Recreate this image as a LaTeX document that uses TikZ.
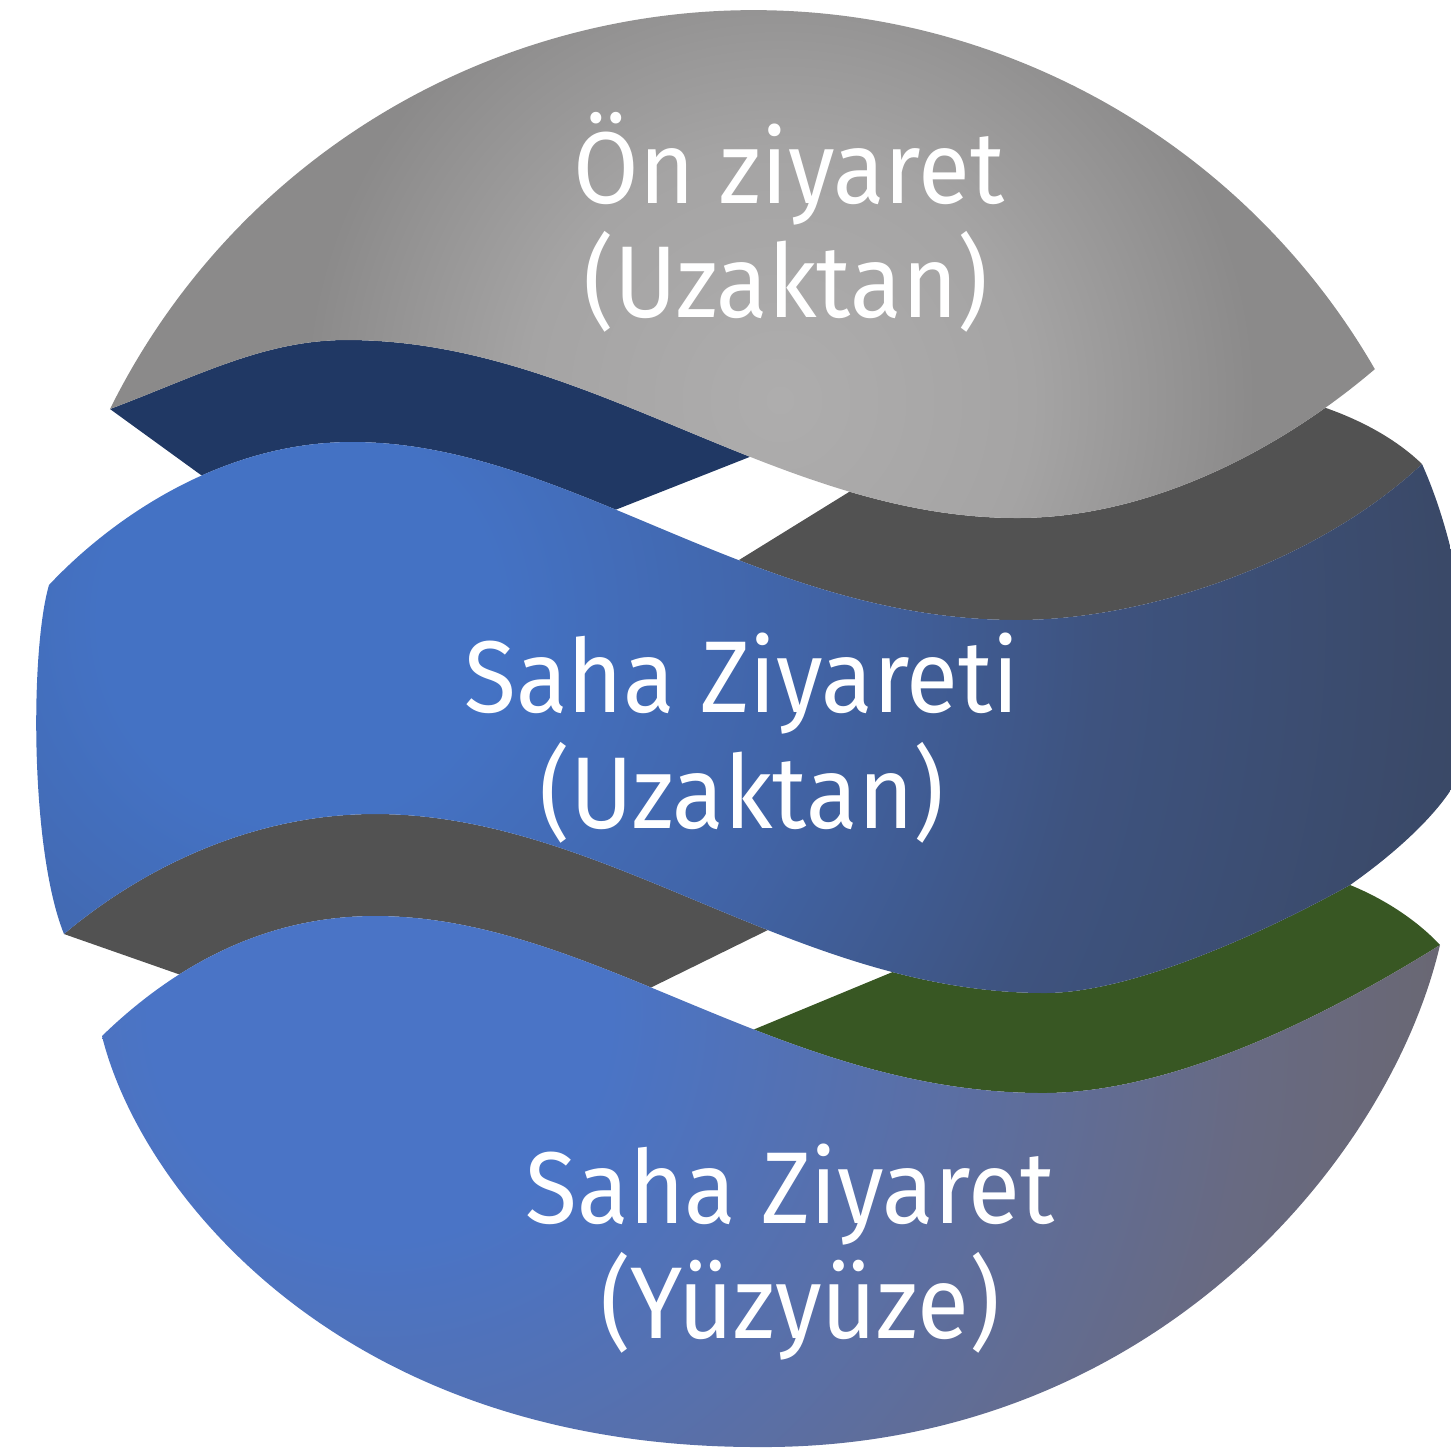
\documentclass[tikz,border=0pt]{standalone}
\usepackage{fontspec}
\setsansfont{Fira Sans}
\usepackage{xcolor}
\usepackage{tikz}
\usetikzlibrary{calc}

\definecolor{navyside}{HTML}{203864}
\definecolor{grayside}{HTML}{525252}
\definecolor{greenside}{HTML}{385723}
\definecolor{capin}{HTML}{AEADAD}
\definecolor{capmid}{HTML}{A5A4A4}
\definecolor{capout}{HTML}{8B8A8A}
\definecolor{midin}{HTML}{4472C4}
\definecolor{midmid}{HTML}{4164A7}
\definecolor{middark}{HTML}{3E537F}
\definecolor{midout}{HTML}{394661}
\definecolor{lowin}{HTML}{4A74C6}
\definecolor{lowmid}{HTML}{5A6FA6}
\definecolor{lowdark}{HTML}{686A82}
\definecolor{lowout}{HTML}{6A666C}

\pgfdeclareradialshading{capglow}{\pgfpointorigin}{color(0bp)=(capin); color(9bp)=(capmid); color(17bp)=(capout); color(25bp)=(capout); color(50bp)=(capout)}
\pgfdeclareradialshading{midglow}{\pgfpointorigin}{color(0bp)=(midin); color(4bp)=(midin); color(10bp)=(midmid); color(16bp)=(middark); color(25bp)=(midout); color(50bp)=(midout)}
\pgfdeclareradialshading{lowglow}{\pgfpointorigin}{color(0bp)=(lowin); color(5bp)=(lowin); color(12bp)=(lowmid); color(19bp)=(lowdark); color(25bp)=(lowout); color(50bp)=(lowout)}

% Vagues (bords des tranches)
\newcommand{\vagueA}{(L1) .. controls (200,375) and (265,340) .. (P1) .. controls (588,340) and (776,518) .. (T1) .. controls (1150,518) and (1280,450) .. (R1)}
\newcommand{\vagueArev}{(R1) .. controls (1280,450) and (1150,518) .. (T1) .. controls (776,518) and (588,340) .. (P1) .. controls (265,340) and (200,375) .. (L1)}
\newcommand{\vagueB}{(LB) .. controls (110,520) and (220,442) .. (PB) .. controls (568,442) and (754,620) .. (TB) .. controls (1150,620) and (1320,560) .. (RB)}
\newcommand{\vagueBrev}{(RB) .. controls (1320,560) and (1150,620) .. (TB) .. controls (754,620) and (568,442) .. (PB) .. controls (220,442) and (110,520) .. (LB)}
\newcommand{\vagueC}{(LC) .. controls (140,870) and (250,814) .. (PC) .. controls (606,814) and (795,993) .. (TC) .. controls (1130,993) and (1260,935) .. (RC)}
\newcommand{\vagueCrev}{(RC) .. controls (1260,935) and (1130,993) .. (TC) .. controls (795,993) and (606,814) .. (PC) .. controls (250,814) and (140,870) .. (LC)}
\newcommand{\vagueD}{(LD) .. controls (170,970) and (260,916) .. (PD) .. controls (593,916) and (780,1093) .. (TD) .. controls (1170,1093) and (1320,1020) .. (RD)}
\newcommand{\vagueDrev}{(RD) .. controls (1320,1020) and (1170,1093) .. (TD) .. controls (780,1093) and (593,916) .. (PD) .. controls (260,916) and (170,970) .. (LD)}

\begin{document}
\begin{tikzpicture}[x=0.01cm, y=-0.01cm,
    etiquette/.style={text=white, font=\sffamily\fontsize{29}{33}\selectfont, anchor=base, inner sep=0pt, xscale=0.93}]
    \useasboundingbox (0,0) rectangle (1451,1450);

    % Bord bas du chapeau
    \coordinate (L1) at (110,409);
    \coordinate (P1) at (347,340);
    \coordinate (T1) at (1017,518);
    \coordinate (R1) at (1375,369);
    % Bord haut de la bande du milieu
    \coordinate (LB) at (49,585);
    \coordinate (PB) at (352,442);
    \coordinate (TB) at (1017,620);
    \coordinate (RB) at (1422,464);
    % Bord bas de la bande du milieu
    \coordinate (LC) at (64,934);
    \coordinate (PC) at (375,814);
    \coordinate (TC) at (1045,993);
    \coordinate (RC) at (1350,885);
    % Bord haut de la bande du bas
    \coordinate (LD) at (102,1036);
    \coordinate (PD) at (375,916);
    \coordinate (TD) at (1043,1093);
    \coordinate (RD) at (1440,945);
    % Extremites des tranches
    \coordinate (E1) at (201,475);
    \coordinate (F1) at (1326,408);
    \coordinate (E2) at (181,975);
    \coordinate (A1) at (752,456);
    \coordinate (A2) at (615,510);
    \coordinate (B1) at (849,492);
    \coordinate (B2) at (739,560);
    \coordinate (C1) at (772,928);
    \coordinate (C2) at (650,988);
    \coordinate (D1) at (895,971);
    \coordinate (D2) at (755,1029);

    % Tranche du haut (bleu nuit + gris)
    \begin{scope}
        \clip \vagueA -- \vagueBrev -- cycle;
        \fill[navyside] ($(L1)!-2!(E1)$) -- ($(L1)!3!(E1)$) -- ($(A1)!4!(A2)$) -- ($(A2)!4!(A1)$) -- cycle;
        \fill[grayside] ($(B2)!5!(B1)$) -- ($(B1)!3!(B2)$) -- (1500,696) -- (1500,464) -- (RB)
            .. controls (1395,438) and (1360,420) .. (F1) -- (1289,385) -- cycle;
    \end{scope}

    % Tranche du bas (gris + vert)
    \begin{scope}
        \clip \vagueC .. controls (1380,897) and (1415,918) .. \vagueDrev -- cycle;
        \fill[grayside] ($(LC)!-2!(E2)$) -- ($(LC)!4!(E2)$) -- ($(C1)!4!(C2)$) -- ($(C2)!5!(C1)$) -- cycle;
        \fill[greenside] ($(D2)!5!(D1)$) -- ($(D1)!3!(D2)$) -- (1600,1145) -- (1600,739) -- cycle;
    \end{scope}

    % Chapeau gris
    \begin{scope}
        \clip (L1) arc[start angle=-153.6, end angle=-30, radius=718] -- \vagueArev -- cycle;
        \shade[shading=capglow] (780,400) circle (700);
    \end{scope}

    % Bande du milieu
    \begin{scope}
        \clip \vagueB .. controls (1465,560) and (1478,690) .. (1465,760)
            .. controls (1455,800) and (1400,850) .. \vagueCrev
            .. controls (30,850) and (30,650) .. (LB) -- cycle;
        \shade[shading=midglow] (300,620) circle (1250);
    \end{scope}

    % Bande du bas
    \begin{scope}
        \clip \vagueD .. controls (1390,1160) and (1150,1450) .. (757,1447)
            .. controls (340,1447) and (140,1190) .. (LD) -- cycle;
        \shade[shading=lowglow] (380,1010) circle (1150);
    \end{scope}

    % Textes
    \node[etiquette] (on1) at (789,203) {Ön ziyaret};
    \node[etiquette] (on2) at (786,317) {(Uzaktan)};
    \node[etiquette] (saha1) at (742,712) {Saha Ziyareti};
    \node[etiquette] (saha2) at (742,828) {(Uzaktan)};
    \node[etiquette] (yuz1) at (790,1223) {Saha Ziyaret};
    \node[etiquette] (yuz2) at (800,1338) {(Yüzyüze)};
\end{tikzpicture}
\end{document}
